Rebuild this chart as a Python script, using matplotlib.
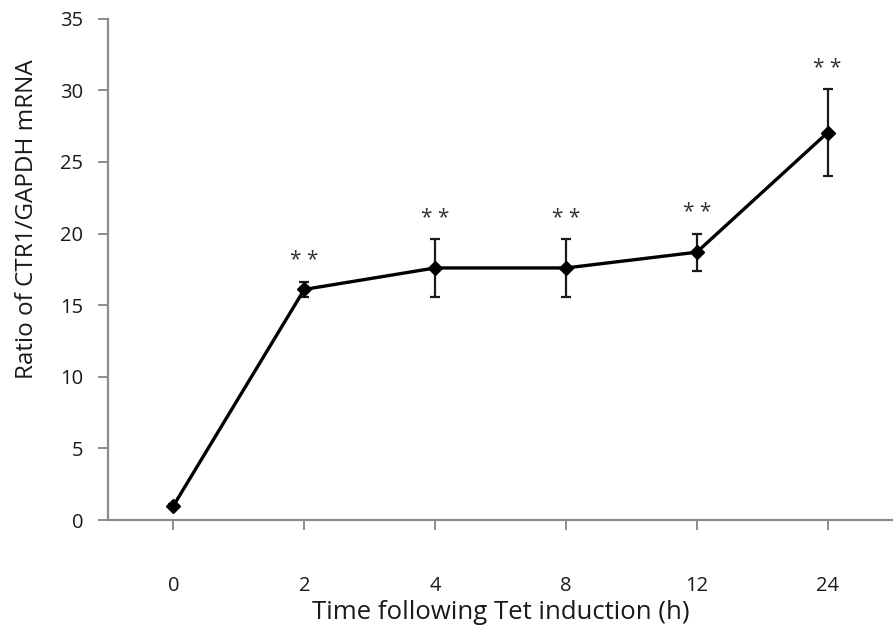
""" CTR1 mRNA time course after Tet induction """
import matplotlib
matplotlib.use('Agg')
import matplotlib.pyplot as plt

plt.rcParams['font.family'] = ['Open Sans', 'DejaVu Sans']

time_labels = ['0', '2', '4', '8', '12', '24']
ratio = [1.0, 16.1, 17.6, 17.6, 18.7, 27.05]
ratio_err = [0.15, 0.55, 2.0, 2.0, 1.3, 3.05]
stars = ['', '**', '**', '**', '**', '**']


def draw():
    fig = plt.figure(figsize=(8.93, 6.25), dpi=100)
    ax = fig.add_axes([0.121, 0.168, 0.879, 0.802])
    pos = list(range(len(time_labels)))

    ax.errorbar(pos, ratio, yerr=ratio_err, color='black', lw=2.4,
                marker='D', markersize=7, ecolor='#1a1a1a', elinewidth=1.6,
                capsize=3.8, capthick=1.6, zorder=3)

    for x, y, e, s in zip(pos, ratio, ratio_err, stars):
        if s:
            ax.annotate(' '.join(s), (x, y + e), xytext=(0, 15),
                        textcoords='offset points', ha='center', va='center',
                        fontsize=15, color='#333333')

    ax.set_xlim(-0.5, len(time_labels) - 0.5)
    ax.set_ylim(0, 35)
    ax.set_yticks(range(0, 36, 5))
    ax.set_xticks(pos)
    ax.set_xticklabels(time_labels)

    for side in ['top', 'right']:
        ax.spines[side].set_visible(False)
    for side in ['left', 'bottom']:
        ax.spines[side].set_color('#8c8c8c')
        ax.spines[side].set_linewidth(1.6)

    ax.tick_params(axis='both', direction='out', color='#8c8c8c',
                   width=1.4, length=7, labelsize=14.5, labelcolor='#1a1a1a')
    ax.tick_params(axis='x', pad=33)
    ax.tick_params(axis='y', pad=11)

    ax.set_xlabel('Time following Tet induction (h)', fontsize=18.5,
                  color='#1a1a1a', labelpad=3)
    ax.set_ylabel('Ratio of CTR1/GAPDH mRNA', fontsize=17.5,
                  color='#1a1a1a')
    ax.yaxis.set_label_coords(-0.088, 0.6)

    fig.savefig('out.png', dpi=100)


if __name__ == '__main__':
    draw()
